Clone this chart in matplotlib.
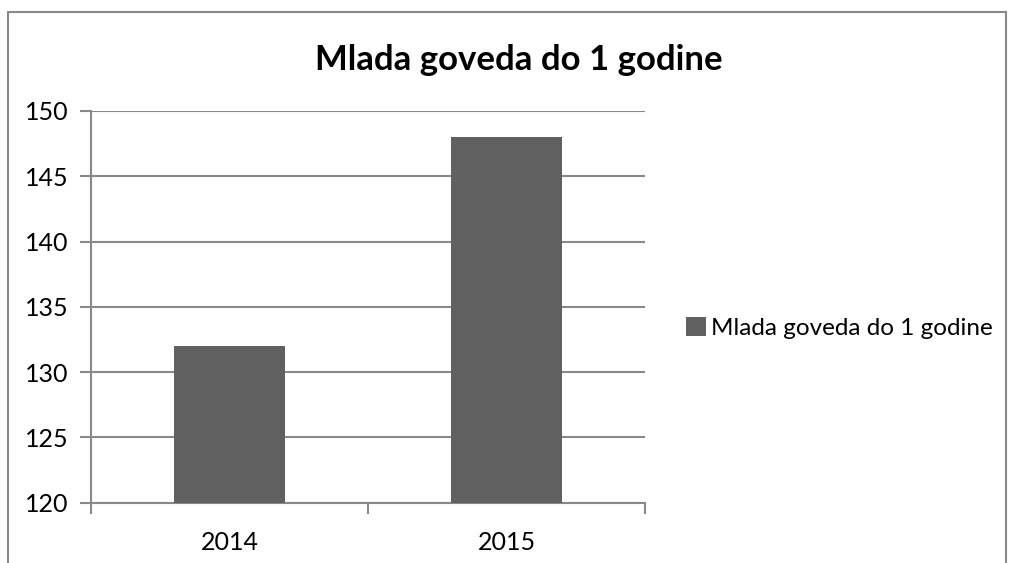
import matplotlib.pyplot as plt
from matplotlib.patches import Rectangle

plt.rcParams['font.family'] = ['Lato', 'DejaVu Sans']

years = ['2014', '2015']
values = [132, 148]
series_name = 'Mlada goveda do 1 godine'
yticks = [120, 125, 130, 135, 140, 145, 150]

grey = '#898989'
bar_color = '#606060'

fig = plt.figure(figsize=(10.11, 5.63), dpi=100)
ax = fig.add_axes([0.090, 0.107, 0.548, 0.696])

x = range(len(years))
ax.bar(x, values, width=0.4, color=bar_color, label=series_name, zorder=3)

ax.set_xlim(-0.5, 1.5)
ax.set_ylim(120, 150)
ax.set_yticks(yticks)
ax.set_xticks([-0.5, 0.5, 1.5], minor=False)
ax.set_xticklabels([])
ax.set_xticks(list(x), minor=True)
ax.set_xticklabels(years, minor=True)
ax.tick_params(axis='x', which='major', length=8, width=1.5, color=grey, direction='out')
ax.tick_params(axis='x', which='minor', length=0, labelsize=18, pad=20)
ax.tick_params(axis='y', length=8, width=1.5, color=grey, labelsize=18, pad=8)

ax.grid(axis='y', color=grey, linewidth=1.5, zorder=0)
for s in ['top', 'right']:
    ax.spines[s].set_visible(False)
for s in ['left', 'bottom']:
    ax.spines[s].set_color(grey)
    ax.spines[s].set_linewidth(1.5)

fig.text(0.513, 0.893, series_name, ha='center', va='center', fontsize=25, fontweight='bold')

ax.legend(loc='center left', bbox_to_anchor=(1.035, 0.446), frameon=False, fontsize=17.5,
          handlelength=0.8, handleheight=0.8, handletextpad=0.2)

# chart border
fig.patches.append(Rectangle((8 / 1011, -0.1), 998 / 1011, 1.1 - 12 / 563, transform=fig.transFigure,
                             fill=False, edgecolor=grey, linewidth=1.5))

fig.savefig('out.png', dpi=100)
